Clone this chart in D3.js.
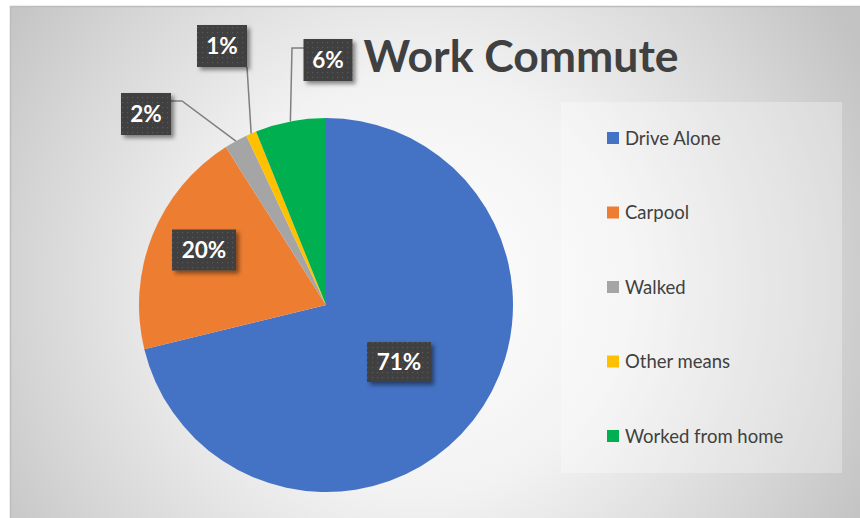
<!DOCTYPE html>
<html><head><meta charset="utf-8">
<script src="https://cdn.jsdelivr.net/npm/d3@7/dist/d3.min.js"></script>
<style>html,body{margin:0;padding:0;background:#fff}svg{display:block}</style>
</head><body>
<svg id="c" width="860" height="518"></svg>
<script>
const categories = ["Drive Alone", "Carpool", "Walked", "Other means", "Worked from home"];
const values = [71.2, 19.8, 2.0, 0.9, 6.1];
const labels = ["71%", "20%", "2%", "1%", "6%"];
const colors = ["#4472C4", "#ED7D31", "#A5A5A5", "#FFC000", "#00B050"];
const title = "Work Commute";

const W = 860, H = 518;
const svg = d3.select("#c");
const defs = svg.append("defs");

const bg = defs.append("radialGradient").attr("id", "bg")
  .attr("gradientUnits", "userSpaceOnUse").attr("cx", 420).attr("cy", 285).attr("r", 500);
bg.append("stop").attr("offset", "0").attr("stop-color", "#ffffff");
bg.append("stop").attr("offset", "0.42").attr("stop-color", "#f2f2f2");
bg.append("stop").attr("offset", "0.78").attr("stop-color", "#d6d6d6");
bg.append("stop").attr("offset", "1").attr("stop-color", "#c3c3c3");

const pat = defs.append("pattern").attr("id", "dots").attr("patternUnits", "userSpaceOnUse")
  .attr("width", 5).attr("height", 5);
pat.append("rect").attr("width", 5).attr("height", 5).attr("fill", "#3f3f3f");
pat.append("rect").attr("x", 2).attr("y", 2).attr("width", 1.2).attr("height", 1.2).attr("fill", "#5a5a5a");

const sh = defs.append("filter").attr("id", "sh").attr("x", "-30%").attr("y", "-30%").attr("width", "160%").attr("height", "160%");
sh.append("feDropShadow").attr("dx", 3).attr("dy", 3).attr("stdDeviation", 2.2)
  .attr("flood-color", "#000").attr("flood-opacity", 0.45);

// background
svg.append("rect").attr("x", 10).attr("y", 6).attr("width", W - 10).attr("height", H - 6).attr("fill", "url(#bg)");
svg.append("line").attr("x1", 10).attr("x2", W).attr("y1", 6.5).attr("y2", 6.5).attr("stroke", "#bdbdbd").attr("stroke-width", 1.5);
svg.append("line").attr("x1", 10.5).attr("x2", 10.5).attr("y1", 6).attr("y2", H).attr("stroke", "#bdbdbd").attr("stroke-width", 1.5);

// title
svg.append("text").attr("x", 521).attr("y", 72).attr("text-anchor", "middle")
  .attr("font-family", "Lato, 'Open Sans', sans-serif").attr("font-weight", 700)
  .attr("font-size", 44.5).attr("fill", "#404040").text(title);

// pie
const cx = 326, cy = 305, R = 187;
const pie = d3.pie().sort(null).value(d => d)(values);
const arc = d3.arc().innerRadius(0).outerRadius(R);
const g = svg.append("g").attr("transform", `translate(${cx},${cy})`);
g.selectAll("path").data(pie).join("path").attr("d", arc).attr("fill", (d, i) => colors[i]);

// label layout (box centres; leader elbows)
const layout = [
  {x: 399, y: 362, w: 64, h: 40},
  {x: 204, y: 250, w: 64, h: 41},
  {x: 146, y: 114, w: 50, h: 42, elbow: [[171, 101], [182, 101]]},
  {x: 222, y: 46, w: 50, h: 42, elbow: [[247, 67], [247, 67]]},
  {x: 328, y: 60, w: 49, h: 42, elbow: [[304, 48], [292, 48]]}
];

// leaders
pie.forEach((d, i) => {
  const L = layout[i];
  if (!L.elbow) return;
  const a = (d.startAngle + d.endAngle) / 2;
  const px = cx + R * Math.sin(a), py = cy - R * Math.cos(a);
  const pts = [L.elbow[0], L.elbow[1], [px, py]];
  svg.append("path").attr("d", d3.line()(pts)).attr("fill", "none")
    .attr("stroke", "#7f7f7f").attr("stroke-width", 1.5);
});

// label boxes
const lg = svg.append("g");
layout.forEach((L, i) => {
  lg.append("rect").attr("x", L.x - L.w / 2).attr("y", L.y - L.h / 2)
    .attr("width", L.w).attr("height", L.h).attr("fill", "url(#dots)").attr("filter", "url(#sh)");
  lg.append("text").attr("x", L.x).attr("y", L.y + 8).attr("text-anchor", "middle")
    .attr("font-family", "Lato, 'Open Sans', sans-serif").attr("font-weight", 700)
    .attr("font-size", 22.5).attr("fill", "#ffffff").text(labels[i]);
});

// legend
svg.append("rect").attr("x", 561).attr("y", 102).attr("width", 281).attr("height", 371)
  .attr("fill", "#ffffff").attr("fill-opacity", 0.3);
const ly = d3.scalePoint().domain(categories).range([138, 436]);
const leg = svg.append("g");
categories.forEach((c, i) => {
  leg.append("rect").attr("x", 607).attr("y", ly(c) - 6).attr("width", 12).attr("height", 12).attr("fill", colors[i]);
  leg.append("text").attr("x", 625).attr("y", ly(c) + 6.5)
    .attr("font-family", "Lato, 'Open Sans', sans-serif").attr("font-size", 18.5)
    .attr("fill", "#404040").text(c);
});
</script>
</body></html>
